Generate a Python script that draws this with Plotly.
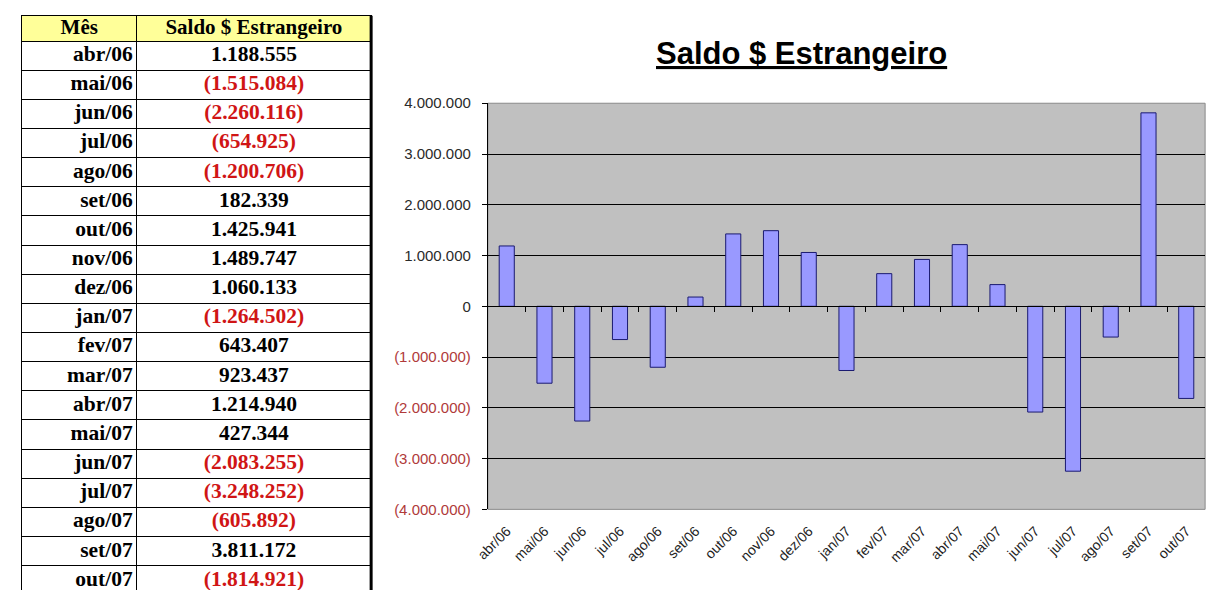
import plotly.graph_objects as go

months = ["abr/06", "mai/06", "jun/06", "jul/06", "ago/06", "set/06", "out/06", "nov/06",
          "dez/06", "jan/07", "fev/07", "mar/07", "abr/07", "mai/07", "jun/07", "jul/07",
          "ago/07", "set/07", "out/07"]
saldo = [1188555, -1515084, -2260116, -654925, -1200706, 182339, 1425941, 1489747,
         1060133, -1264502, 643407, 923437, 1214940, 427344, -2083255, -3248252,
         -605892, 3811172, -1814921]
y_ticks = [-4000000, -3000000, -2000000, -1000000, 0, 1000000, 2000000, 3000000, 4000000]
title_text = "Saldo $ Estrangeiro"
header_text = ["Mês", "Saldo $ Estrangeiro"]

RED = "#d01515"
AXRED = "#b03a3a"


def fmt_br(v):
    s = f"{abs(v):,}".replace(",", ".")
    return f"({s})" if v < 0 else s


W, H = 1216, 598


def fx(px):
    return px / W


def fy(py):
    return 1 - py / H


# ---------------- table geometry (pixels) ----------------
tbl_left, tbl_right, tbl_top = 9, 362, 7
col_edges = [0, 116, tbl_right - tbl_left]       # column boundaries in table units
header_h, row_h = 26, 30
row_edges = [header_h + row_h * i for i in range(len(months) + 1)]
row_centers = [header_h + row_h * (i + 0.5) for i in range(len(months))]
tbl_y_range = [H - tbl_top, 0]

# ---------------- chart geometry (pixels) ----------------
px0, px1, py0, py1 = 480, 1205, 97, 515
xdom = [fx(px0), fx(px1)]
ydom = [fy(py1), fy(py0)]
zero_pos = (ydom[0] + ydom[1]) / 2

fig = go.Figure()

# ---- table drawn on its own axes ----
fig.add_trace(go.Scatter(
    x=[col_edges[1] - 4] * len(months), y=row_centers, mode="text",
    text=[f"<b>{m}</b>" for m in months], textposition="middle left",
    textfont=dict(family="Liberation Serif", size=21.5, color="black"),
    xaxis="x3", yaxis="y3", hoverinfo="skip", showlegend=False,
))
fig.add_trace(go.Scatter(
    x=[(col_edges[1] + col_edges[2]) / 2] * len(saldo), y=row_centers, mode="text",
    text=[f"<b>{fmt_br(v)}</b>" for v in saldo], textposition="middle center",
    textfont=dict(family="Liberation Serif", size=21.5,
                  color=[RED if v < 0 else "black" for v in saldo]),
    xaxis="x3", yaxis="y3", hoverinfo="skip", showlegend=False,
))
fig.add_trace(go.Scatter(
    x=[(col_edges[0] + col_edges[1]) / 2, (col_edges[1] + col_edges[2]) / 2],
    y=[header_h / 2 + 0.5] * 2, mode="text",
    text=[f"<b>{h}</b>" for h in header_text], textposition="middle center",
    textfont=dict(family="Liberation Serif", size=21, color="black"),
    xaxis="x3", yaxis="y3", hoverinfo="skip", showlegend=False,
))

# ---- bars ----
fig.add_trace(go.Bar(
    x=months, y=saldo, xaxis="x", yaxis="y",
    marker=dict(color="#9999ff", line=dict(color="#1a1a70", width=1)),
    showlegend=False, hoverinfo="x+y",
))
# helper trace for the category axis that crosses at zero
fig.add_trace(go.Scatter(
    x=months, y=saldo, xaxis="x2", yaxis="y", mode="markers",
    marker=dict(opacity=0), hoverinfo="skip", showlegend=False,
))

ticktext = []
for v in y_ticks:
    if v < 0:
        ticktext.append(f'<span style="color:{AXRED}">{fmt_br(v)}</span>')
    else:
        ticktext.append(fmt_br(v))

fig.update_layout(
    width=W, height=H, autosize=False,
    margin=dict(l=0, r=0, t=0, b=0),
    paper_bgcolor="white",
    plot_bgcolor="rgba(0,0,0,0)",
    bargap=0.6,
    font=dict(family="Liberation Sans, Arial", color="#222"),
    xaxis=dict(
        domain=xdom, anchor="y", type="category", range=[-0.5, len(months) - 0.5],
        showgrid=False, zeroline=False, showline=False,
        ticks="", tickangle=-45, tickfont=dict(size=14, color="#222"),
        ticklabelstandoff=10,
    ),
    xaxis2=dict(
        domain=xdom, overlaying="x", anchor="free", position=zero_pos, type="category",
        range=[-0.5, len(months) - 0.5], showgrid=False, zeroline=False,
        showline=True, linecolor="black", linewidth=1, showticklabels=False,
        ticks="outside", tickson="boundaries", ticklen=5, tickcolor="black",
    ),
    yaxis=dict(
        domain=ydom, anchor="x", range=[-4000000, 4000000],
        tickvals=y_ticks, ticktext=ticktext, tickfont=dict(size=15, color="#2a2a2a"),
        showgrid=True, gridcolor="black", gridwidth=1,
        zeroline=True, zerolinecolor="black", zerolinewidth=1,
        showline=True, linecolor="black", linewidth=1,
        ticks="outside", ticklen=5, tickcolor="black", ticklabelstandoff=8,
    ),
    xaxis3=dict(
        domain=[fx(tbl_left), fx(tbl_right)], anchor="y3", range=[col_edges[0], col_edges[-1]],
        side="top", showline=True, linecolor="black", linewidth=1,
        tickvals=col_edges[1:-1], showgrid=True, gridcolor="black", gridwidth=1,
        showticklabels=False, ticks="", zeroline=False, fixedrange=True,
    ),
    yaxis3=dict(
        domain=[0, fy(tbl_top)], anchor="x3", range=tbl_y_range,
        showline=True, mirror=True, linecolor="black", linewidth=1,
        tickvals=row_edges, showgrid=True, gridcolor="black", gridwidth=1,
        showticklabels=False, ticks="", zeroline=False, fixedrange=True,
    ),
    shapes=[
        dict(type="rect", xref="x domain", yref="y domain", x0=0, x1=1, y0=0, y1=1,
             fillcolor="#c0c0c0", line=dict(color="#8a8a8a", width=1), layer="below"),
        dict(type="rect", xref="x3", yref="y3", x0=col_edges[0], x1=col_edges[-1],
             y0=0, y1=header_h, fillcolor="#ffff99", line=dict(width=0), layer="below"),
        dict(type="line", xref="x3 domain", yref="y3 domain", x0=1, x1=1, y0=0, y1=1,
             line=dict(color="black", width=3)),
    ],
    annotations=[dict(
        text=f"<b><u>{title_text}</u></b>", x=fx(797), y=fy(46),
        xref="paper", yref="paper", xanchor="center", yanchor="middle",
        showarrow=False, font=dict(family="Liberation Sans, Arial", size=31, color="black"),
    )],
)

fig.write_html("out.html", config={"displayModeBar": False},
               post_script="document.body.style.margin='0px';")
